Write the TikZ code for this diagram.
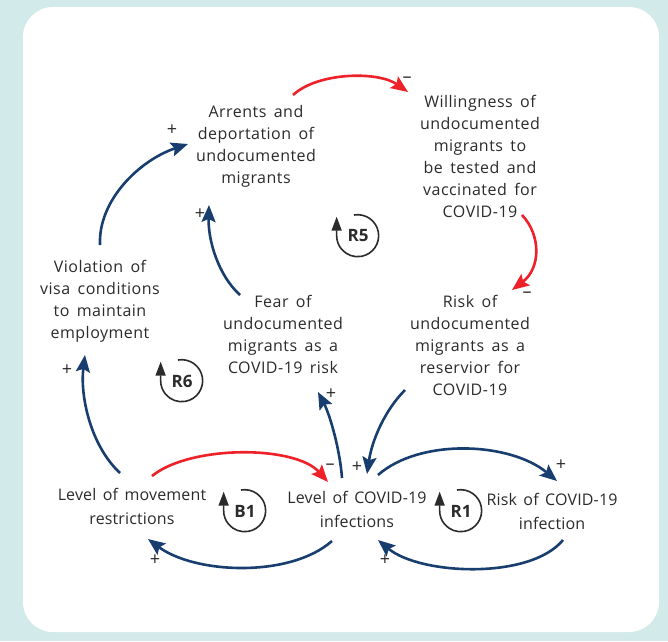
\documentclass[tikz,border=0pt]{standalone}
\usepackage{fontspec}
\setmainfont{Open Sans}[LetterSpace=3,WordSpace=1.6]
\newfontfamily\tagfont{Open Sans}
\newfontfamily\tightfont{Open Sans}[LetterSpace=1,WordSpace=1.5]
\usetikzlibrary{arrows.meta,calc}
\definecolor{bgcyan}{HTML}{D3EAEB}
\definecolor{navy}{HTML}{173E6E}
\definecolor{loopred}{HTML}{EE2129}
\definecolor{ink}{HTML}{2B2B2B}
% loop marker: circular arrow with the loop name inside
\newcommand\loopmark[3]{%
  \node[looptag] (#1) at (#2) {#3};
  \draw[loopline] ($(#1.center)+(-4,-21)$) arc[start angle=-100, end angle=180, radius=21] -- ++(0,-19);
}
\begin{document}
\begin{tikzpicture}[x=1pt,y=-1pt,
  var/.style={align=center, text=ink, font=\fontsize{16}{22}\selectfont, inner sep=0pt},
  varb/.style={var, font=\tightfont\fontsize{16}{24}\selectfont},
  link/.style={line width=2.6pt, -{Stealth[length=17pt,width=14pt,inset=3pt]}},
  plink/.style={navy, link},
  nlink/.style={loopred, link},
  sgn/.style={text=ink, font=\tagfont\fontsize{18}{18}\selectfont, inner sep=0pt},
  looptag/.style={font=\tagfont\bfseries\fontsize{17}{17}\selectfont, text=ink, inner sep=0pt},
  loopline/.style={draw=ink, line width=1.6pt, -{Triangle[length=14pt,width=10pt]}}]

% background panel
\fill[bgcyan] (0,0) rectangle (668,641);
\fill[white, rounded corners=30pt] (23,7) rectangle (659,632);
\useasboundingbox (0,0) rectangle (668,641);

% variables
\node[var] (arr) at (256,146) {Arrents and\\deportation of\\undocumented\\migrants};
\node[var] (will) at (480,156) {Willingness of\\undocumented\\migrants to\\be tested and\\vaccinated for\\COVID-19};
\node[var] (viol) at (100,301) {Violation of\\visa conditions\\to maintain\\employment};
\node[var] (fear) at (283,334) {Fear of\\undocumented\\migrants as a\\COVID-19 risk};
\node[var] (risku) at (470,345) {Risk of\\undocumented\\migrants as a\\reservior for\\COVID-19};
\node[varb] (move) at (132,506) {Level of movement\\restrictions};
\node[varb] (covid) at (357,509) {Level of COVID-19\\infections};
\node[varb] (riskc) at (552,511) {Risk of COVID-19\\infection};

% loop markers
\loopmark{r5}{358,236}{R5}
\loopmark{r6}{182,381}{R6}
\loopmark{b1}{245,511}{B1}
\loopmark{r1}{461,511}{R1}

% links
\draw[nlink] ($(arr)+(37,-51)$) .. controls (318,72) and (378,71) .. ($(will)+(-72,-64)$);
\draw[nlink] ($(will)+(42,59)$) .. controls (541,235) and (541,268) .. ($(risku)+(42,-55)$);
\draw[plink] ($(risku)+(-65,45)$) .. controls (385,410) and (372,440) .. ($(covid)+(10,-35)$);
\draw[plink] ($(covid)+(-15,-31)$) .. controls (340,450) and (330,415) .. ($(fear)+(35,58)$);
\draw[plink] ($(fear)+(-43,-39)$) .. controls (218,275) and (208,240) .. ($(arr)+(-47,59)$);
\draw[plink] ($(viol)+(0,-56)$) .. controls (98,200) and (140,160) .. ($(arr)+(-68,-2)$);
\draw[plink] ($(move)+(-12,-33)$) .. controls (90,445) and (80,395) .. ($(viol)+(-15,54)$);
\draw[nlink] ($(move)+(20,-30)$) .. controls (190,445) and (295,445) .. ($(covid)+(-29,-27)$);
\draw[plink] ($(covid)+(-25,32)$) .. controls (290,578) and (195,574) .. ($(move)+(16,33)$);
\draw[plink] ($(covid)+(21,-34)$) .. controls (420,438) and (510,442) .. ($(riskc)+(5,-30)$);
\draw[plink] ($(riskc)+(11,29)$) .. controls (530,580) and (420,575) .. ($(covid)+(21,31)$);

% polarity signs
\node[sgn] (s1) at (407,80) {–};
\node[sgn] (s2) at (527,295) {–};
\node[sgn] (s3) at (357,467) {+};
\node[sgn] (s4) at (331,394) {+};
\node[sgn] (s5) at (200,214) {+};
\node[sgn] (s6) at (172,130) {+};
\node[sgn] (s7) at (67,370) {+};
\node[sgn] (s8) at (330,467) {–};
\node[sgn] (s9) at (155,560) {+};
\node[sgn] (s10) at (561,465) {+};
\node[sgn] (s11) at (385,560) {+};
\end{tikzpicture}
\end{document}
